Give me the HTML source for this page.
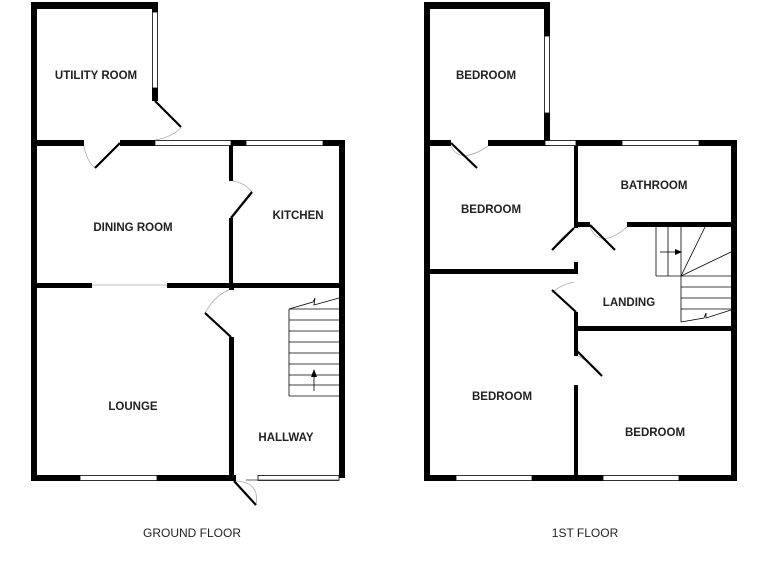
<!DOCTYPE html>
<html><head><style>
html,body{margin:0;padding:0;background:#fff;width:768px;height:576px;overflow:hidden}
svg{display:block}
text{font-family:"Liberation Sans",sans-serif;font-size:11.5px;font-weight:bold;fill:#222;text-anchor:middle}
text.cap{font-weight:normal;font-size:12px}
</style></head><body>
<svg width="768" height="576" viewBox="0 0 768 576">
<g fill="#000">
<rect x="31" y="2" width="6" height="479"/>
<rect x="31" y="2" width="127" height="7"/>
<rect x="152" y="2" width="6" height="10"/>
<rect x="152" y="88" width="6" height="13"/>
<rect x="37" y="140" width="47" height="6"/>
<rect x="120" y="140" width="35" height="6"/>
<rect x="231" y="140" width="15" height="6"/>
<rect x="323" y="140" width="22" height="6"/>
<rect x="339" y="140" width="6" height="338"/>
<rect x="229" y="146" width="4" height="35"/>
<rect x="229" y="218" width="4" height="70"/>
<rect x="37" y="283" width="55" height="5"/>
<rect x="167" y="283" width="178" height="5"/>
<rect x="229" y="288" width="5" height="2"/>
<rect x="229" y="337" width="5" height="144"/>
<rect x="31" y="475" width="49" height="6"/>
<rect x="157" y="475" width="79" height="6"/>
<rect x="424" y="2" width="6" height="479"/>
<rect x="424" y="2" width="126" height="7"/>
<rect x="544" y="2" width="6" height="34"/>
<rect x="544" y="113" width="6" height="33"/>
<rect x="430" y="140" width="21" height="6"/>
<rect x="488" y="140" width="57" height="6"/>
<rect x="576" y="140" width="46" height="6"/>
<rect x="699" y="140" width="38" height="6"/>
<rect x="731" y="140" width="6" height="341"/>
<rect x="574" y="146" width="4" height="82"/>
<rect x="574" y="222" width="16" height="5"/>
<rect x="627" y="222" width="110" height="5"/>
<rect x="574" y="262" width="4" height="12"/>
<rect x="430" y="269" width="148" height="5"/>
<rect x="574" y="312" width="4" height="44"/>
<rect x="574" y="385" width="4" height="96"/>
<rect x="578" y="326" width="159" height="5"/>
<rect x="424" y="475" width="32" height="6"/>
<rect x="532" y="475" width="71" height="6"/>
<rect x="679" y="475" width="58" height="6"/>
</g>
<g fill="#fff" stroke="#000" stroke-width="0.8">
<rect x="152.5" y="12" width="5" height="76"/>
<rect x="155" y="140.5" width="76" height="5"/>
<rect x="246" y="140.5" width="77" height="5"/>
<rect x="80" y="475.5" width="77" height="5"/>
<rect x="258" y="475.5" width="81" height="5"/>
<rect x="544.5" y="36" width="5" height="77"/>
<rect x="545" y="140.5" width="31" height="5"/>
<rect x="622" y="140.5" width="77" height="5"/>
<rect x="456" y="475.5" width="76" height="5"/>
<rect x="603" y="475.5" width="76" height="5"/>
</g>
<g stroke="#aaa" stroke-width="0.8" fill="none">
<line x1="92" y1="285" x2="167" y2="285"/>
<path d="M181 128 Q170 138 155 140"/>
<path d="M84 146 Q86 160 95 168"/>
<path d="M233 181 Q245 183 252 192"/>
<path d="M229 290 Q215 295 205 313"/>
<path d="M236 481 Q260 482 256 505"/>
<path d="M451 146 Q460 165 488 146"/>
<path d="M574 228 Q560 238 552 250"/>
<path d="M590 227 Q600 250 627 227"/>
<path d="M574 282 Q560 285 552 293"/>
<path d="M578 356 Q595 365 602 376"/>
</g>
<g stroke="#000" stroke-width="2.2" fill="none">
<line x1="155" y1="101" x2="181" y2="127"/>
<line x1="120" y1="143" x2="95" y2="168"/>
<line x1="231" y1="218" x2="252" y2="192"/>
<line x1="231" y1="337" x2="205" y2="313"/>
<line x1="234" y1="481" x2="256" y2="505"/>
<line x1="451" y1="143" x2="477" y2="168"/>
<line x1="574" y1="228" x2="552" y2="250"/>
<line x1="590" y1="225" x2="615" y2="250"/>
<line x1="576" y1="312" x2="552" y2="290"/>
<line x1="576" y1="350" x2="602" y2="376"/>
</g>
<g stroke="#000" stroke-width="0.8" fill="none">
<line x1="289" y1="309" x2="289" y2="396"/>
<line x1="289" y1="309" x2="339" y2="309"/>
<line x1="289" y1="320" x2="339" y2="320"/>
<line x1="289" y1="331" x2="339" y2="331"/>
<line x1="289" y1="342" x2="339" y2="342"/>
<line x1="289" y1="353" x2="339" y2="353"/>
<line x1="289" y1="364" x2="339" y2="364"/>
<line x1="289" y1="375" x2="339" y2="375"/>
<line x1="289" y1="385" x2="339" y2="385"/>
<line x1="289" y1="396" x2="339" y2="396"/>
<path d="M289 309 L313 302 L315 298 L314 305 L339 298"/>
<line x1="314" y1="391" x2="314" y2="375"/>
<line x1="246" y1="480" x2="339" y2="480" stroke="#333"/>
</g>
<polygon points="314,369 311,377 317,377" fill="#000"/>
<g stroke="#000" stroke-width="0.8" fill="none">
<line x1="656" y1="227" x2="656" y2="276"/>
<line x1="668" y1="227" x2="668" y2="276"/>
<line x1="681" y1="227" x2="681" y2="322"/>
<line x1="656" y1="276" x2="681" y2="276"/>
<line x1="681" y1="276" x2="705" y2="227"/>
<line x1="681" y1="276" x2="731" y2="252"/>
<line x1="681" y1="276" x2="731" y2="276"/>
<line x1="681" y1="287" x2="731" y2="287"/>
<line x1="681" y1="298" x2="731" y2="298"/>
<line x1="681" y1="309" x2="731" y2="309"/>
<path d="M681 322 L704 318 L706 313 L706 318 L731 310"/>
<line x1="660" y1="252" x2="676" y2="252"/>
</g>
<polygon points="682,252 675,249 675,255" fill="#000"/>
<text x="96" y="79">UTILITY ROOM</text>
<text x="133" y="231">DINING ROOM</text>
<text x="298" y="219">KITCHEN</text>
<text x="133" y="410">LOUNGE</text>
<text x="286" y="441">HALLWAY</text>
<text x="486" y="79">BEDROOM</text>
<text x="491" y="213">BEDROOM</text>
<text x="654" y="189">BATHROOM</text>
<text x="629" y="306">LANDING</text>
<text x="502" y="400">BEDROOM</text>
<text x="655" y="436">BEDROOM</text>
<text class="cap" x="192" y="537">GROUND FLOOR</text>
<text class="cap" x="585" y="537">1ST FLOOR</text>
</svg>
</body></html>
